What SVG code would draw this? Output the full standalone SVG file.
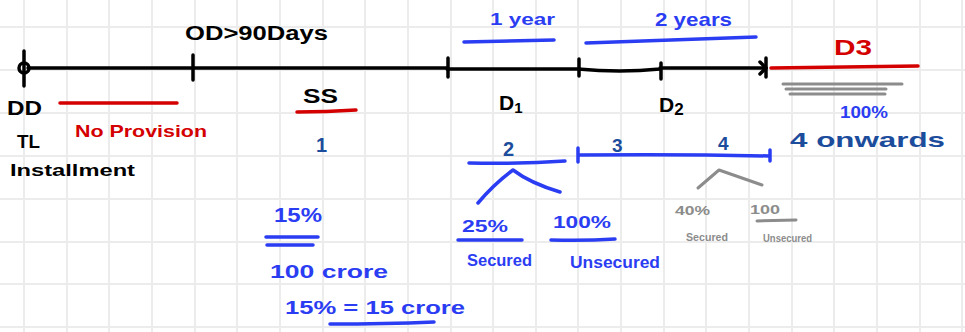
<svg xmlns="http://www.w3.org/2000/svg" width="965" height="332" viewBox="0 0 965 332">
<style>
.t{font-family:"Liberation Sans","DejaVu Sans",sans-serif;font-weight:bold}
.k{fill:#000}
.r{fill:#d40000}
.b{fill:#2b3df2}
.db{fill:#1c4c9c}
.g{fill:#8c8c8c}
.lk{stroke:#000;stroke-width:3.5;fill:none;stroke-linecap:round;stroke-linejoin:round}
.lr{stroke:#d40000;stroke-width:3.5;fill:none;stroke-linecap:round}
.lb{stroke:#2b3df2;stroke-width:3.5;fill:none;stroke-linecap:round;stroke-linejoin:round}
.lg{stroke:#8c8c8c;stroke-width:3;fill:none;stroke-linecap:round;stroke-linejoin:round}
.grid{stroke:#ececec;stroke-width:2;fill:none}
</style>
<rect width="965" height="332" fill="#fff"/>
<path class="grid" d="M24 0V332M67 0V332M109 0V332M152 0V332M195 0V332M237 0V332M280 0V332M323 0V332M365 0V332M408 0V332M451 0V332M493 0V332M536 0V332M578 0V332M621 0V332M664 0V332M706 0V332M749 0V332M792 0V332M834 0V332M877 0V332M920 0V332M962 0V332M0 27H965M0 70H965M0 113H965M0 156H965M0 199H965M0 242H965M0 284H965M0 327H965"/>

<g id="connectors">
  <!-- main timeline -->
  <path class="lk" d="M28 68H447 M447 69H578 Q620 73 660 69 M660 68H766"/>
  <path class="lk" d="M760 62L766 68L760 74"/>
  <circle cx="24" cy="68" r="5" class="lk" stroke-width="3"/>
  <path class="lk" d="M24 51V86"/>
  <path class="lk" d="M193 55V80"/>
  <path class="lk" d="M448 58V77"/>
  <path class="lk" d="M579 59V76"/>
  <path class="lk" d="M661 63V79"/>
  <path class="lk" d="M766 58V77"/>
  <!-- D3 red extension -->
  <path class="lr" d="M771 68Q850 67 918 66"/>
  <!-- gray lines under D3 -->
  <path class="lg" d="M783 84H902 M786 89H886 M790 94H885" stroke-width="2.5"/>
  <!-- duration arrows -->
  <path class="lb" d="M464 42Q510 41 554 40"/>
  <path class="lb" d="M586 43Q670 40 756 37"/>
  <!-- underlines -->
  <path class="lr" d="M60 103H177"/>
  <path class="lr" d="M297 112Q326 112 356 110"/>
  <path class="lb" d="M469 163Q520 164 565 161"/>
  <path class="lb" d="M578 148V162 M579 155Q680 154 769 156 M770 150V161"/>
  <path class="lb" d="M266 237H318 M267 245H313"/>
  <path class="lb" d="M330 324Q385 324 434 322"/>
  <path class="lb" d="M458 240H522"/>
  <path class="lb" d="M551 240Q585 241 615 239"/>
  <!-- splits -->
  <path class="lb" d="M478 203Q494 184 513 170Q530 183 560 192"/>
  <path class="lg" d="M698 188L719 170L762 185"/>
  <path class="lg" d="M757 221L796 220" stroke-width="2.5"/>
</g>

<g id="od90"><text class="t k" x="185" y="40" font-size="20" textLength="143" lengthAdjust="spacingAndGlyphs">OD&gt;90Days</text></g>
<g id="dd"><text class="t k" x="7" y="115" font-size="21" textLength="35" lengthAdjust="spacingAndGlyphs">DD</text></g>
<g id="tl"><text class="t k" x="17" y="148" font-size="19" textLength="23" lengthAdjust="spacingAndGlyphs">TL</text></g>
<g id="installment"><text class="t k" x="10" y="176" font-size="16" textLength="125" lengthAdjust="spacingAndGlyphs">Installment</text></g>
<g id="noprovision"><text class="t r" x="75" y="137" font-size="17" textLength="132" lengthAdjust="spacingAndGlyphs">No Provision</text></g>
<g id="ss"><text class="t k" x="303" y="103" font-size="20" textLength="35" lengthAdjust="spacingAndGlyphs">SS</text></g>
<g id="ss-tl"><text class="t db" x="316" y="152" font-size="20">1</text></g>
<g id="oneyear"><text class="t b" x="490" y="25" font-size="17" textLength="65" lengthAdjust="spacingAndGlyphs">1 year</text></g>
<g id="twoyears"><text class="t b" x="655" y="26" font-size="19" textLength="77" lengthAdjust="spacingAndGlyphs">2 years</text></g>
<g id="d1"><text class="t k" x="499" y="110" font-size="21">D<tspan font-size="15" dy="3">1</tspan></text></g>
<g id="d2"><text class="t k" x="659" y="112" font-size="21">D<tspan font-size="17" dy="3">2</tspan></text></g>
<g id="d3"><text class="t r" x="834" y="55" font-size="22" textLength="38" lengthAdjust="spacingAndGlyphs">D3</text></g>
<g id="d3-pct"><text class="t b" x="840" y="118" font-size="17" textLength="48" lengthAdjust="spacingAndGlyphs">100%</text></g>
<g id="d3-tl"><text class="t db" x="790" y="147" font-size="21" textLength="155" lengthAdjust="spacingAndGlyphs">4 onwards</text></g>
<g id="d1-tl"><text class="t db" x="503" y="156" font-size="20">2</text></g>
<g id="d2-tl3"><text class="t db" x="612" y="152" font-size="19">3</text></g>
<g id="d2-tl4"><text class="t db" x="718" y="150" font-size="19">4</text></g>
<g id="ss-pct"><text class="t b" x="274" y="222" font-size="20" textLength="48" lengthAdjust="spacingAndGlyphs">15%</text></g>
<g id="ss-amt"><text class="t b" x="270" y="278" font-size="19" textLength="118" lengthAdjust="spacingAndGlyphs">100 crore</text></g>
<g id="ss-calc"><text class="t b" x="285" y="314" font-size="19" textLength="180" lengthAdjust="spacingAndGlyphs">15% = 15 crore</text></g>
<g id="d1-sec"><text class="t b" x="462" y="232" font-size="17" textLength="46" lengthAdjust="spacingAndGlyphs">25%</text><text class="t b" x="467" y="266" font-size="16" textLength="65" lengthAdjust="spacingAndGlyphs">Secured</text></g>
<g id="d1-unsec"><text class="t b" x="553" y="228" font-size="17" textLength="58" lengthAdjust="spacingAndGlyphs">100%</text><text class="t b" x="570" y="268" font-size="16" textLength="90" lengthAdjust="spacingAndGlyphs">Unsecured</text></g>
<g id="d2-sec"><text class="t g" x="675" y="215" font-size="13" textLength="35" lengthAdjust="spacingAndGlyphs">40%</text><text class="t g" x="686" y="241" font-size="11" textLength="42" lengthAdjust="spacingAndGlyphs">Secured</text></g>
<g id="d2-unsec"><text class="t g" x="750" y="214" font-size="13" textLength="30" lengthAdjust="spacingAndGlyphs">100</text><text class="t g" x="763" y="242" font-size="11" textLength="49" lengthAdjust="spacingAndGlyphs">Unsecured</text></g>
</svg>
